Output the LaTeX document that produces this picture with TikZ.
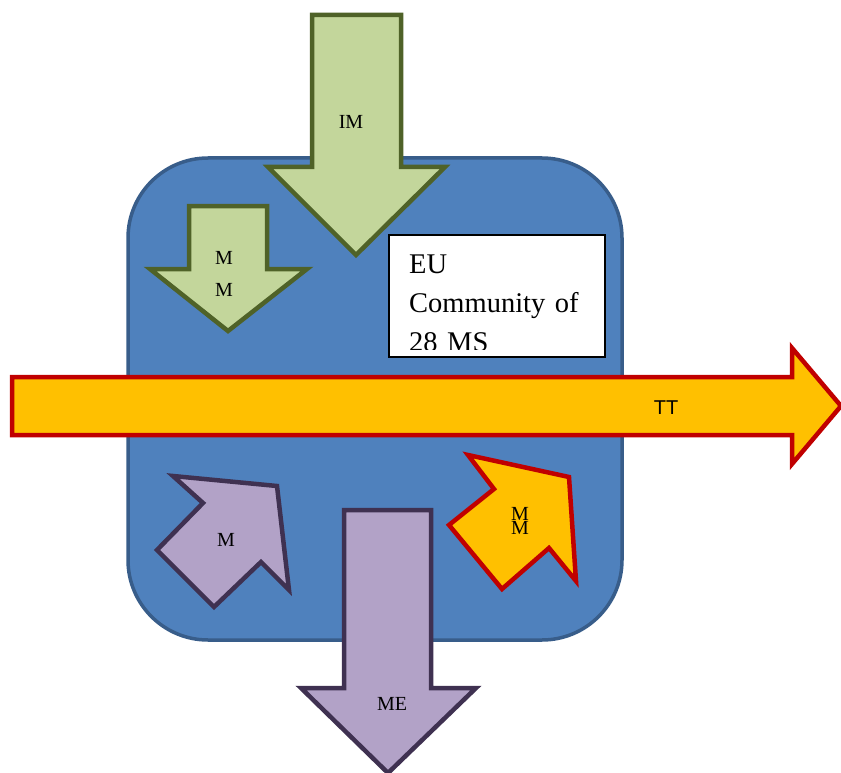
\documentclass[tikz,border=0pt]{standalone}
\usepackage{fontspec}
\setmainfont{Liberation Serif}
\setsansfont{Liberation Sans}
\usepackage{tikz}
\definecolor{commFill}{HTML}{4F81BD}
\definecolor{commBorder}{HTML}{385D8A}
\definecolor{greenFill}{HTML}{C3D69B}
\definecolor{greenBorder}{HTML}{4F6228}
\definecolor{lilacFill}{HTML}{B2A2C7}
\definecolor{lilacBorder}{HTML}{3F3151}
\definecolor{goldFill}{HTML}{FFC000}
\definecolor{goldBorder}{HTML}{C00000}

\begin{document}
\begin{tikzpicture}[
		x=1pt, y=-1pt,
		community/.style={draw=commBorder, fill=commFill, line width=3.5pt, rounded corners=80pt},
		arrowshape/.style={draw=#1Border, fill=#1Fill, line width=4.5pt, line join=miter},
		lbl/.style={font=\fontsize{20}{32}\selectfont, align=center, inner sep=0pt}
		]
		\useasboundingbox (0,0) rectangle (841,773);
		
		% Community block
		\draw[community] (128,158) rectangle (622,640);
		
		% Green arrows (top)
		\draw[arrowshape=green] (312,15) -- (401,15) -- (401,167) -- (445,167) -- (356,255)
			-- (268,167) -- (312,167) -- cycle;
		\node[lbl] (im) at (351,122) {IM};
		
		\draw[arrowshape=green] (189,206) -- (267,206) -- (267,269) -- (307,269) -- (228,331)
			-- (150,269) -- (189,269) -- cycle;
		\node[lbl] (mmgreen) at (224,274) {M\\M};
		
		% EU box
		\fill[white] (389,235) rectangle (605,357);
		\begin{scope}
			\clip (389,235) rectangle (605,349);
			\node[anchor=base west, inner sep=0pt, text width=200pt, align=left,
				font=\fontsize{28.5}{39}\selectfont] (eu) at (409,273)
				{\fontsize{28.5}{39}\selectfont EU\\Community of\\28 MS};
		\end{scope}
		\draw[line width=1.5pt] (389,235) rectangle (605,357);
		
		% Transit arrow
		\draw[arrowshape=gold] (12,377) -- (792,377) -- (792,348) -- (841,406) -- (792,464)
			-- (792,435) -- (12,435) -- cycle;
		\node[lbl, font=\sffamily\fontsize{20}{24}\selectfont] (tt) at (666,408) {TT};
		
		% Rotated arrows (bottom)
		\draw[arrowshape=lilac] (173,476) -- (277,486) -- (289,590) -- (261,562) -- (214,607)
			-- (157,550) -- (203,503) -- cycle;
		\node[lbl] (mlilac) at (226,540) {M};
		
		\draw[arrowshape=gold] (468,455) -- (569,477) -- (576,581) -- (549,548) -- (502,589)
			-- (449,525) -- (494,489) -- cycle;
		\node[lbl, font=\fontsize{20}{12}\selectfont] (mgold) at (520,521) {M\\M};
		
		% Emigration arrow
		\draw[arrowshape=lilac] (344,510) -- (431,510) -- (431,688) -- (476,688) -- (388,773)
			-- (301,688) -- (344,688) -- cycle;
		\node[lbl] (me) at (392,704) {ME};
		
	\end{tikzpicture}
\end{document}
